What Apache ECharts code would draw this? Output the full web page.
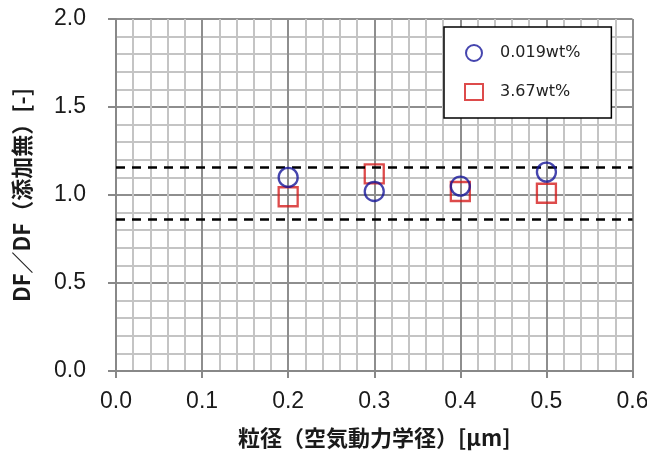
<!DOCTYPE html>
<html>
<head>
<meta charset="utf-8">
<script src="https://cdn.jsdelivr.net/npm/echarts@6/dist/echarts.min.js"></script>
<style>html,body{margin:0;padding:0;background:#fff}#c{width:647px;height:461px}</style>
</head>
<body>
<div id="c"></div>
<script>
const sizes = [0.2, 0.3, 0.4, 0.5];
const seriesNames = ['0.019wt%', '3.67wt%'];
const lowConc = [1.10, 1.02, 1.05, 1.13];
const highConc = [0.99, 1.12, 1.02, 1.01];
const bandLines = [1.16, 0.86];
const xTicks = [0.0, 0.1, 0.2, 0.3, 0.4, 0.5, 0.6];
const yTicks = [0.0, 0.5, 1.0, 1.5, 2.0];

const chart = echarts.init(document.getElementById('c'), null, {renderer: 'canvas'});
const lab = {fontFamily: 'Liberation Sans, Arial, sans-serif', fontSize: 23, color: '#1a1a1a'};
const nameFont = {fontFamily: 'Noto Sans CJK JP, sans-serif', fontSize: 22, fontWeight: 'bold', color: '#1a1a1a'};
chart.setOption({
  animation: false,
  grid: {left: 116, right: 14.5, top: 19, bottom: 90, containLabel: false, outerBoundsMode: 'none'},
  legend: {
    orient: 'vertical', left: 444, top: 27,
    borderColor: '#000', borderWidth: 1.5, backgroundColor: '#fff',
    padding: [17, 31, 17, 20], itemGap: 21, itemWidth: 18, itemHeight: 16,
    textStyle: {fontFamily: 'DejaVu Sans, sans-serif', fontSize: 16, color: '#222', padding: [0, 0, 0, 12]},
    data: seriesNames
  },
  xAxis: {
    type: 'value', min: 0, max: 0.6, interval: 0.1,
    name: '粒径（空気動力学径）[μm]', nameLocation: 'middle', nameGap: 56, nameTextStyle: nameFont,
    axisLine: {show: true, lineStyle: {color: '#888', width: 2}},
    axisTick: {show: true, length: 7, lineStyle: {color: '#888', width: 2}},
    minorTick: {show: false, splitNumber: 5},
    axisLabel: Object.assign({margin: 19, formatter: v => xTicks.includes(+v.toFixed(1)) ? v.toFixed(1) : ''}, lab),
    splitLine: {show: true, lineStyle: {color: '#8e8e8e', width: 2}},
    minorSplitLine: {show: true, lineStyle: {color: '#c4c4c4', width: 2}}
  },
  yAxis: {
    type: 'value', min: 0, max: 2.0, interval: 0.5,
    name: 'DF／DF（添加無）[-]', nameLocation: 'middle', nameGap: 83, nameRotate: 90, nameTextStyle: nameFont,
    axisLine: {show: true, lineStyle: {color: '#888', width: 2}},
    axisTick: {show: true, length: 8, lineStyle: {color: '#888', width: 2}},
    minorTick: {show: false, splitNumber: 5},
    axisLabel: Object.assign({margin: 30, formatter: v => yTicks.includes(+v.toFixed(1)) ? v.toFixed(1) : ''}, lab),
    splitLine: {show: true, lineStyle: {color: '#8e8e8e', width: 2}},
    minorSplitLine: {show: true, lineStyle: {color: '#c4c4c4', width: 2}}
  },
  series: [
    {
      name: seriesNames[0], type: 'scatter', symbol: 'circle', symbolSize: 19, z: 5,
      itemStyle: {color: 'rgba(255,255,255,0)', borderColor: '#16169a', borderWidth: 2.3},
      data: sizes.map((x, i) => [x, lowConc[i]]),
      markLine: {
        silent: true, symbol: 'none', label: {show: false},
        lineStyle: {color: '#000', type: [9, 7], width: 2.5},
        data: bandLines.map(v => ({yAxis: v}))
      }
    },
    {
      name: seriesNames[1], type: 'scatter', symbol: 'rect', symbolSize: 19, z: 4,
      itemStyle: {color: 'rgba(255,255,255,0)', borderColor: '#d41e1e', borderWidth: 2.3},
      data: sizes.map((x, i) => [x, highConc[i]])
    }
  ]
});
</script>
</body>
</html>
